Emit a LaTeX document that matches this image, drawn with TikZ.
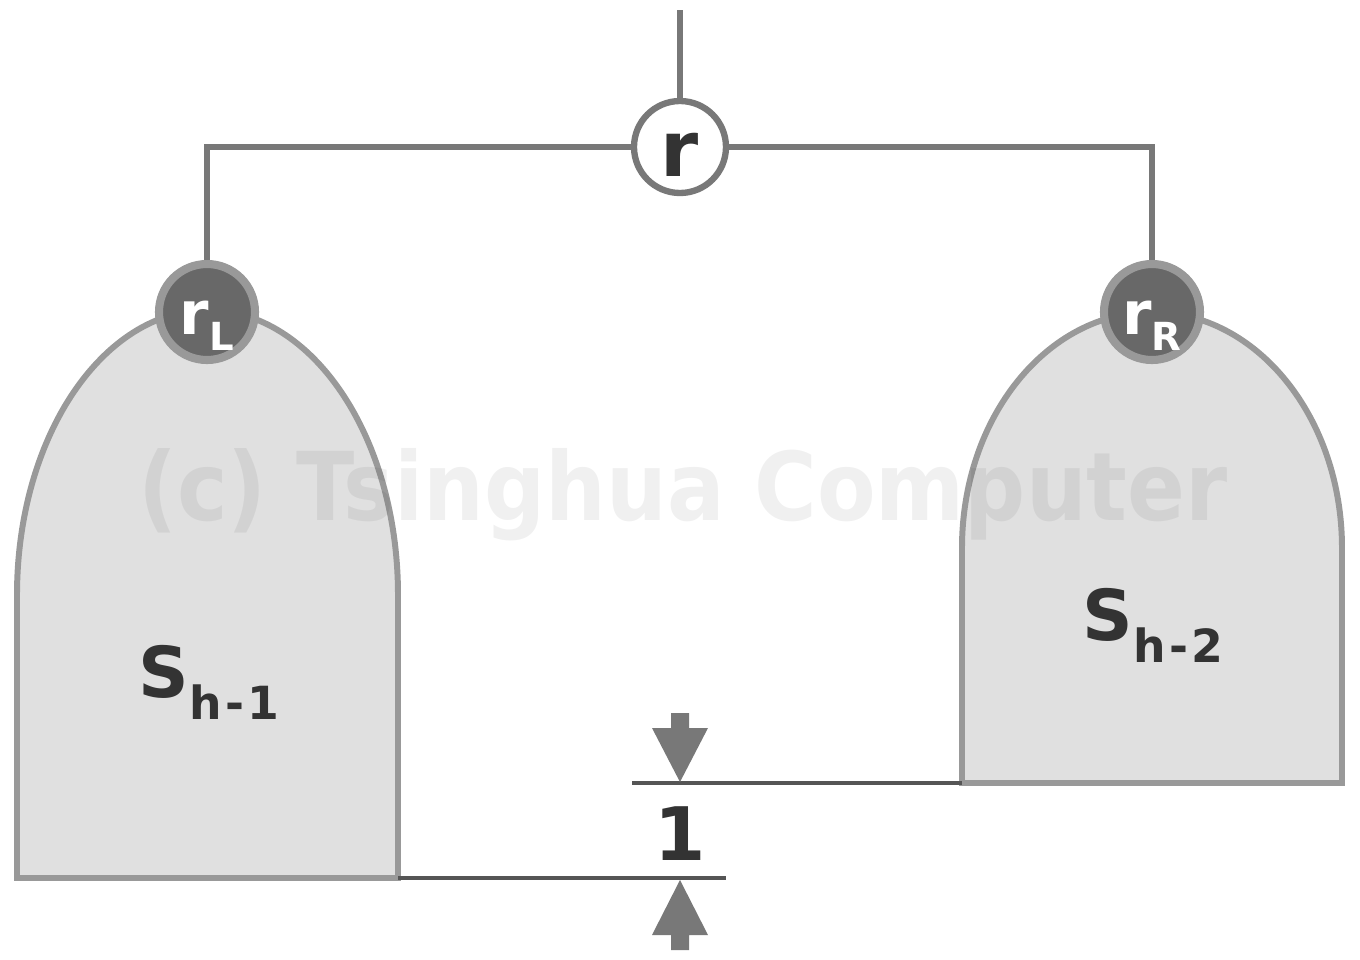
\documentclass[tikz,border=0pt]{standalone}
\usepackage{fontspec}
\setmainfont{DejaVu Sans}
\usetikzlibrary{positioning}

\definecolor{wirecol}{HTML}{787878}
\definecolor{setfill}{HTML}{E0E0E0}
\definecolor{setedge}{HTML}{999999}
\definecolor{rootdark}{HTML}{686868}
\definecolor{inkdark}{HTML}{333333}
\definecolor{dimline}{HTML}{555555}
\definecolor{dimhead}{HTML}{787878}

\newcommand{\lowsub}[2]{\raisebox{#1}{\fontsize{13}{13}\selectfont #2}}

\begin{document}
\begin{tikzpicture}[
    x=0.1mm,y=-0.1mm,
    wire/.style={draw=wirecol,line width=1.7pt},
    setshape/.style={draw=setedge,fill=setfill,line width=1.7pt},
    root/.style={circle,draw=wirecol,fill=white,line width=1.8pt,inner sep=0pt,
      minimum size=0.92cm,font=\bfseries\fontsize{22}{22}\selectfont,text=inkdark},
    subroot/.style={circle,draw=setedge,fill=rootdark,line width=2.3pt,inner sep=0pt,
      minimum size=0.96cm,font=\bfseries\fontsize{17}{17}\selectfont,text=white},
    setlabel/.style={anchor=base,font=\bfseries\fontsize{20}{20}\selectfont,text=inkdark},
    dimedge/.style={draw=dimline,line width=1.3pt},
    dimarrow/.style={fill=dimhead}
]
\useasboundingbox (0,0) rectangle (1360,960);

% the two subtrees
\draw[setshape] (17,878) -- (17,595) arc[start angle=180,end angle=360,x radius=190.5,y radius=285] -- (398,878) -- cycle;
\draw[setshape] (962,783) -- (962,548) arc[start angle=180,end angle=360,x radius=190,y radius=236] -- (1342,783) -- cycle;
\coordinate (lbot) at (398,878);
\coordinate (rbot) at (962,783);

\node[opacity=0.06,anchor=base,font=\bfseries\fontsize{27}{27}\selectfont] (mark) at (683,520)
  {\scalebox{0.9}[1]{(c) Tsinghua Computer}};

\node[setlabel] (s1) at (209,697) {S\lowsub{-6.5pt}{h\kern1pt-\kern1pt1}};
\node[setlabel] (s2) at (1153,640) {S\lowsub{-6.5pt}{h\kern1pt-\kern1pt2}};

% roots
\node[root] (r) at (680,147) {\raisebox{-8.5pt}[0pt][0pt]{r}};
\node[subroot] (rL) at (207,312) {\raisebox{-6.5pt}[0pt][0pt]{r\lowsub{-4.5pt}{\fontsize{11}{11}\selectfont L}}};
\node[subroot] (rR) at (1152,312) {\raisebox{-6.5pt}[0pt][0pt]{r\lowsub{-4.5pt}{\fontsize{11}{11}\selectfont R}}};
\coordinate (top) at (680,10);

\draw[wire] (top) -- (r);
\draw[wire] (r) -| (rL);
\draw[wire] (r) -| (rR);

% height difference
\draw[dimedge] (632,783) -- (rbot);
\draw[dimedge] (lbot) -- (726,878);
\fill[dimarrow] (671,713) -- (689,713) -- (689,728) -- (708,728) -- (680,782) -- (652,728) -- (671,728) -- cycle;
\fill[dimarrow] (671,950) -- (689,950) -- (689,935) -- (708,935) -- (680,880) -- (652,935) -- (671,935) -- cycle;
\node[anchor=base,font=\bfseries\fontsize{21}{21}\selectfont,text=inkdark] (one) at (680,860) {1};
\end{tikzpicture}
\end{document}
